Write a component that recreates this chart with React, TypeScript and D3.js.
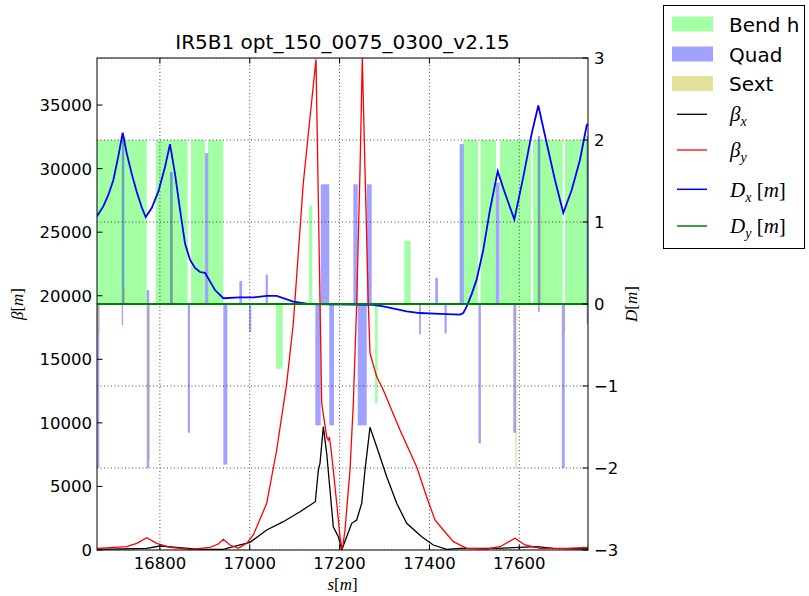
import React from 'react';
import * as d3 from 'd3';

const S_DOMAIN = [16660, 17753];
const BETA_DOMAIN = [0, 38700];
const D_DOMAIN = [-3, 3];

const sTicks = [16800, 17000, 17200, 17400, 17600];
const betaTicks = [0, 5000, 10000, 15000, 20000, 25000, 30000, 35000];
const dTicks = [-3, -2, -1, 0, 1, 2, 3];

// Horizontal bends: start s, end s, plotted height
const bendStart = [16640, 16790.7, 16869.3, 16907.1, 17058.5, 17131.9, 17278.9, 17344.1, 17475.4, 17513.7, 17557.1, 17630.6, 17701.8];
const bendEnd = [16770.6, 16861.9, 16900.4, 16941.2, 17073.4, 17139.3, 17284.9, 17358.3, 17508.1, 17548.2, 17626.1, 17696.7, 17770];
const bendHeight = [2, 2, 2, 2, -0.79, 1.2, -1.21, 0.77, 2, 2, 2, 2, 2];

// Quadrupoles: centre s, length, plotted strength
const quadS = [16663, 16718, 16716.5, 16773.5, 16773.5, 16825.5, 16864.5, 16904, 16945.7, 16980, 17001, 17038, 17152, 17167.5, 17182.3, 17235.5, 17250.4, 17266, 17379, 17416, 17436, 17471.7, 17511.8, 17552, 17589.7, 17643.9, 17643.5, 17698, 17752, 17752];
const quadL = [4, 5.5, 3, 5.5, 5.5, 6, 5, 7, 9, 6, 5, 5, 12, 19, 10.5, 9.7, 20.1, 11.1, 4, 6, 5, 9, 5.5, 8, 6, 5.5, 4, 6.5, 5, 4];
const quadK = [-2.0, 2.05, -0.26, -2.0, 0.17, 1.61, -1.57, 1.84, -1.96, 0.28, -0.34, 0.36, -1.48, 1.46, -1.48, 1.46, -1.48, 1.46, -0.37, 0.32, -0.36, 1.95, -1.7, 1.48, -1.57, 2.05, -0.1, -2.0, 2.05, -0.24];

// Sextupoles: centre s, plotted strength
const sextS = [16664.5, 16721.2, 16776.4, 16827.6, 17592.6, 17646.6, 17701.1, 17752];
const sextK = [-0.35, 0.2, -1.9, 1.19, -2.0, 1.1, -0.35, 0.2];
const SEXT_LEN = 3;

// beta_x
const betaXS = [16660, 16770.6, 16800.2, 16837.4, 16889.3, 16941.2, 16963.4, 17000.6, 17037.8, 17074.7, 17111.9, 17146.0, 17152.7, 17156.4, 17163.8, 17171.3, 17178.7, 17186.0, 17197.2, 17204.7, 17215.8, 17227.0, 17238.1, 17249.3, 17256.6, 17267.7, 17282.6, 17304.9, 17327.2, 17349.4, 17382.8, 17408.6, 17438.5, 17468.1, 17549.8, 17586.7, 17638.8, 17675.8, 17753];
const betaXV = [55, 134, 315, 212, 55, 55, 260, 606, 1573, 2226, 3013, 3799, 6293, 6820, 9699, 7606, 4720, 1833, 1046, 0, 1046, 2100, 2360, 3673, 6293, 9651, 8125, 5766, 3673, 2100, 1046, 393, 55, 134, 134, 181, 260, 134, 79];

// beta_y
const betaYS = [16660, 16726.1, 16748.4, 16770.6, 16792.9, 16822.5, 16867.0, 16911.5, 16930.0, 16941.2, 16956.1, 16974.5, 16993.2, 17007.9, 17037.8, 17060.0, 17082.3, 17097.0, 17119.2, 17147.5, 17160.2, 17171.3, 17174.9, 17177.4, 17182.0, 17186.0, 17193.6, 17200.9, 17206.1, 17212.1, 17223.2, 17230.6, 17238.1, 17245.5, 17250.6, 17256.6, 17263.9, 17267.7, 17282.6, 17297.3, 17334.5, 17371.7, 17393.9, 17412.4, 17430.9, 17453.2, 17483.0, 17527.5, 17557.1, 17590.5, 17612.8, 17646.2, 17705.6, 17753];
const betaYV = [134, 260, 527, 967, 527, 212, 55, 212, 472, 842, 393, 134, 527, 1180, 3673, 7866, 13112, 17832, 28844, 38600, 11539, 8912, 8650, 8890, 7606, 6293, 3673, 1046, 0, 1573, 6293, 11539, 19405, 29891, 38677, 29891, 19405, 15472, 13632, 12586, 9439, 6529, 4169, 2360, 1573, 653, 134, 79, 260, 920, 393, 134, 134, 212];

// D_x
const dxS = [16660, 16674.0, 16685.2, 16696.3, 16707.4, 16717.2, 16726.1, 16737.2, 16748.4, 16759.5, 16768.4, 16781.8, 16796.5, 16811.4, 16822.5, 16833.6, 16844.8, 16855.9, 16867.0, 16878.2, 16889.3, 16900.4, 16922.7, 16941.2, 16978.3, 17008.0, 17037.8, 17060.0, 17097.0, 17130.4, 17275.1, 17297.3, 17349.4, 17379.0, 17423.6, 17468.1, 17475.4, 17483.0, 17494.1, 17505.2, 17519.9, 17534.8, 17552.0, 17568.3, 17589.0, 17609.0, 17627.7, 17642.4, 17661.1, 17679.6, 17698.0, 17716.7, 17735.2, 17750.1, 17753.7];
const dxV = [1.07, 1.19, 1.33, 1.51, 1.80, 2.09, 1.84, 1.59, 1.37, 1.18, 1.06, 1.17, 1.37, 1.67, 1.95, 1.59, 1.15, 0.74, 0.54, 0.44, 0.39, 0.38, 0.17, 0.07, 0.08, 0.08, 0.10, 0.10, 0.03, 0.0, -0.01, -0.03, -0.09, -0.11, -0.12, -0.13, -0.11, -0.03, 0.12, 0.30, 0.66, 1.15, 1.62, 1.35, 1.03, 1.55, 2.08, 2.42, 1.96, 1.51, 1.11, 1.39, 1.76, 2.18, 2.2];

// D_y
const dyS = [16660, 17753];
const dyV = [0, 0];

const L = 97, R = 588, T = 58, B = 550;

export default function App() {
  const xs = d3.scaleLinear().domain(S_DOMAIN).range([L, R]);
  const yb = d3.scaleLinear().domain(BETA_DOMAIN).range([B, T]);
  const yd = d3.scaleLinear().domain(D_DOMAIN).range([B, T]);

  const lineB = d3.line<number>().x((_, i) => 0).y(() => 0);
  const mk = (S: number[], V: number[], y: d3.ScaleLinear<number, number>) =>
    d3.line<number>().x((d, i) => xs(S[i])).y((d, i) => y(V[i]))(S) || '';

  const tickFont = { fontFamily: 'DejaVu Sans', fontSize: 16.5 };
  const mathFont = { fontFamily: 'Liberation Serif', fontStyle: 'italic' as const };

  const legendRows = [
    { type: 'patch', fill: '#00FF00', op: 0.36, label: 'Bend h', y: 24 },
    { type: 'patch', fill: '#0000FF', op: 0.37, label: 'Quad', y: 54 },
    { type: 'patch', fill: '#B5B500', op: 0.4, label: 'Sext', y: 83.3 },
  ];

  return (
    <svg width={809} height={596} style={{ position: 'absolute', left: 0, top: 0, background: '#fff' }}>
      <defs>
        <clipPath id="plot"><rect x={L} y={T} width={R - L} height={B - T} /></clipPath>
      </defs>
      <rect x={0} y={0} width={809} height={596} fill="#fff" />
      <g clipPath="url(#plot)">
        {bendStart.map((s, i) => (
          <rect key={'b' + i} x={xs(s)} width={xs(bendEnd[i]) - xs(s)}
            y={yd(Math.max(0, bendHeight[i]))} height={Math.abs(yd(bendHeight[i]) - yd(0))}
            fill="#00FF00" fillOpacity={0.36} />
        ))}
        {quadS.map((s, i) => (
          <rect key={'q' + i} x={xs(s - quadL[i] / 2)} width={xs(s + quadL[i] / 2) - xs(s - quadL[i] / 2)}
            y={yd(Math.max(0, quadK[i]))} height={Math.abs(yd(quadK[i]) - yd(0))}
            fill="#0000FF" fillOpacity={0.37} />
        ))}
        {sextS.map((s, i) => (
          <rect key={'s' + i} x={xs(s - SEXT_LEN / 2)} width={xs(s + SEXT_LEN / 2) - xs(s - SEXT_LEN / 2)}
            y={yd(Math.max(0, sextK[i]))} height={Math.abs(yd(sextK[i]) - yd(0))}
            fill="#B5B500" fillOpacity={0.4} />
        ))}
        {sTicks.map(t => (
          <line key={'gx' + t} x1={xs(t)} x2={xs(t)} y1={T} y2={B} stroke="#000" strokeWidth={0.7} strokeDasharray="1,2.5" />
        ))}
        {dTicks.map(t => (
          <line key={'gy' + t} x1={L} x2={R} y1={yd(t)} y2={yd(t)} stroke="#000" strokeWidth={0.7} strokeDasharray="1,2.5" />
        ))}
        <path d={mk(betaXS, betaXV, yb)} fill="none" stroke="#000" strokeWidth={1.3} />
        <path d={mk(betaYS, betaYV, yb)} fill="none" stroke="#FF0000" strokeWidth={1.3} />
        <path d={mk(dxS, dxV, yd)} fill="none" stroke="#0000FF" strokeWidth={1.8} />
        <path d={mk(dyS, dyV, yd)} fill="none" stroke="#008000" strokeWidth={1.8} />
      </g>
      <rect x={L} y={T} width={R - L} height={B - T} fill="none" stroke="#000" strokeWidth={1} />
      {/* ticks */}
      {sTicks.map(t => (
        <g key={'tx' + t}>
          <line x1={xs(t)} x2={xs(t)} y1={B} y2={B - 5.5} stroke="#000" />
          <line x1={xs(t)} x2={xs(t)} y1={T} y2={T + 5.5} stroke="#000" />
          <text x={xs(t)} y={B + 19} textAnchor="middle" {...tickFont}>{t}</text>
        </g>
      ))}
      {betaTicks.map(t => (
        <g key={'tb' + t}>
          <line x1={L} x2={L + 5.5} y1={yb(t)} y2={yb(t)} stroke="#000" />
          <text x={L - 5} y={yb(t) + 6} textAnchor="end" {...tickFont}>{t}</text>
        </g>
      ))}
      {dTicks.map(t => (
        <g key={'td' + t}>
          <line x1={R} x2={R - 5.5} y1={yd(t)} y2={yd(t)} stroke="#000" />
          <text x={R + 6} y={yd(t) + 6} textAnchor="start" {...tickFont}>{t < 0 ? '\u2212' + Math.abs(t) : String(t)}</text>
        </g>
      ))}
      {/* title and labels */}
      <text x={(L + R) / 2} y={49} textAnchor="middle" fontFamily="DejaVu Sans" fontSize={20}>IR5B1 opt_150_0075_0300_v2.15</text>
      <text x={(L + R) / 2} y={590} textAnchor="middle" fontSize={17} {...mathFont}>s<tspan fontStyle="normal">[</tspan>m<tspan fontStyle="normal">]</tspan></text>
      <text transform={`translate(23,${(T + B) / 2}) rotate(-90)`} textAnchor="middle" fontSize={17} {...mathFont}>β<tspan fontStyle="normal">[</tspan>m<tspan fontStyle="normal">]</tspan></text>
      <text transform={`translate(637,${(T + B) / 2}) rotate(-90)`} textAnchor="middle" fontSize={17} {...mathFont}>D<tspan fontStyle="normal">[</tspan>m<tspan fontStyle="normal">]</tspan></text>
      {/* legend */}
      <rect x={663.5} y={5.5} width={141} height={243} fill="#fff" stroke="#000" strokeWidth={1} />
      {legendRows.map(r => (
        <g key={r.label}>
          <rect x={672} y={r.y - 7.5} width={41} height={15} fill={r.fill} fillOpacity={r.op} />
          <text x={729} y={r.y + 7.5} fontFamily="DejaVu Sans" fontSize={20}>{r.label}</text>
        </g>
      ))}
      <line x1={677} x2={707} y1={114.3} y2={114.3} stroke="#000" strokeWidth={1.3} />
      <text x={730} y={121} fontSize={21} {...mathFont}>β<tspan dy={5} fontSize={14}>x</tspan></text>
      <line x1={677} x2={707} y1={150} y2={150} stroke="#FF0000" strokeWidth={1.3} />
      <text x={730} y={157} fontSize={21} {...mathFont}>β<tspan dy={5} fontSize={14}>y</tspan></text>
      <line x1={677} x2={707} y1={189.3} y2={189.3} stroke="#0000FF" strokeWidth={1.5} />
      <text x={730} y={197} fontSize={21} {...mathFont}>D<tspan dy={5} fontSize={14}>x</tspan><tspan dy={-5} fontStyle="normal"> [</tspan>m<tspan fontStyle="normal">]</tspan></text>
      <line x1={677} x2={707} y1={226} y2={226} stroke="#008000" strokeWidth={1.5} />
      <text x={730} y={233} fontSize={21} {...mathFont}>D<tspan dy={5} fontSize={14}>y</tspan><tspan dy={-5} fontStyle="normal"> [</tspan>m<tspan fontStyle="normal">]</tspan></text>
    </svg>
  );
}
